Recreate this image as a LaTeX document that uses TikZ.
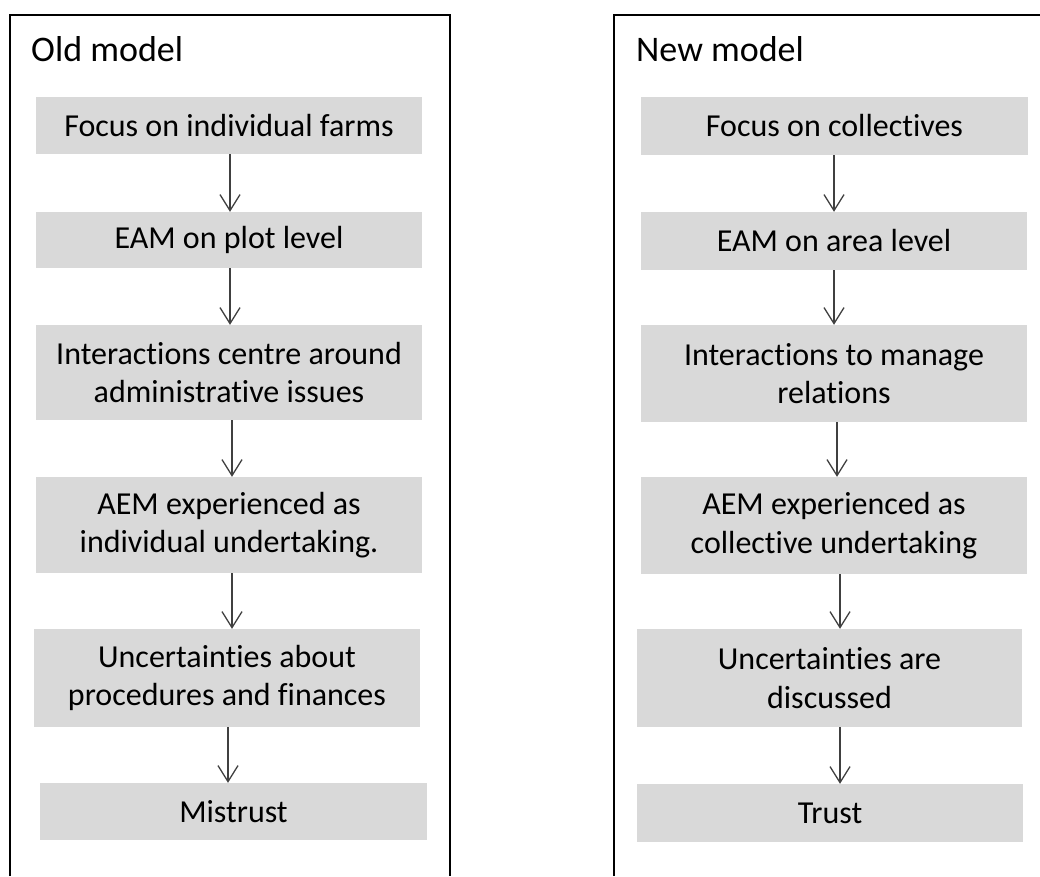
\documentclass[tikz,border=0pt]{standalone}
\usepackage{fontspec}
\setmainfont{Carlito}[Ligatures={NoCommon,NoRare,NoContextual}]
\usetikzlibrary{arrows.meta}
\definecolor{boxgray}{HTML}{D9D9D9}
\definecolor{arrowgray}{HTML}{404040}
\newcommand{\nolig}{\kern0pt\relax}
\begin{document}
\begin{tikzpicture}[x=1pt,y=-1pt,
  frame/.style={line width=2pt, draw=black},
  stepbox/.style={fill=boxgray, draw=none, inner sep=0pt, align=center,
    font=\fontsize{32}{38.4}\selectfont, text=black, minimum width=386pt},
  ttl/.style={anchor=base west, inner sep=0pt, font=\fontsize{36}{43}\selectfont},
  arr/.style={line width=1.3pt, draw=arrowgray,
    -{Straight Barb[length=16pt,width=20pt,line width=1.3pt]}}]
\useasboundingbox (0,0) rectangle (1040,876);
\fill[white] (0,0) rectangle (1040,876);
% frames
\draw[frame] (10,876) -- (10,15) -- (450,15) -- (450,876);
\draw[frame] (614,876) -- (614,15) -- (1040,15);
% titles
\node[ttl] (tL) at (31,61) {Old model};
\node[ttl] (tR) at (636,61) {New model};
% left column
\node[stepbox, minimum height=57pt] (L1) at (229,125.5) {Focus on individual farms};
\node[stepbox, minimum height=56pt] (L2) at (229,240) {EAM on plot level};
\node[stepbox, minimum height=95pt] (L3) at (229,372.5) {Interact\nolig ions centre around\\administrat\nolig ive issues};
\node[stepbox, minimum height=96pt] (L4) at (229,525) {AEM experienced as\\individual undertaking.};
\node[stepbox, minimum height=98pt] (L5) at (227,678) {Uncertaint\nolig ies about\\procedures and finances};
\node[stepbox, minimum height=57pt, minimum width=387pt] (L6) at (233.5,811.5) {Mistrust};
% right column
\node[stepbox, minimum height=58pt, minimum width=387pt] (R1) at (834.5,126) {Focus on collect\nolig ives};
\node[stepbox, minimum height=58pt] (R2) at (834,241) {EAM on area level};
\node[stepbox, minimum height=97pt] (R3) at (834,373.5) {Interact\nolig ions to manage\\relat\nolig ions};
\node[stepbox, minimum height=97pt] (R4) at (834,525.5) {AEM experienced as\\collect\nolig ive undertaking};
\node[stepbox, minimum height=98pt, minimum width=385pt] (R5) at (829.5,678) {Uncertaint\nolig ies are\\discussed};
\node[stepbox, minimum height=58pt] (R6) at (830,813) {Trust};
% arrow columns
\coordinate (la1) at (230,0);
\coordinate (la2) at (230,0);
\coordinate (la3) at (232,0);
\coordinate (la4) at (232,0);
\coordinate (la5) at (228,0);
\coordinate (ra1) at (834,0);
\coordinate (ra2) at (834,0);
\coordinate (ra3) at (837,0);
\coordinate (ra4) at (840,0);
\coordinate (ra5) at (840,0);
\draw[arr] (L1.south -| la1) -- (L2.north -| la1);
\draw[arr] (L2.south -| la2) -- (L3.north -| la2);
\draw[arr] (L3.south -| la3) -- (L4.north -| la3);
\draw[arr] (L4.south -| la4) -- (L5.north -| la4);
\draw[arr] (L5.south -| la5) -- (L6.north -| la5);
\draw[arr] (R1.south -| ra1) -- (R2.north -| ra1);
\draw[arr] (R2.south -| ra2) -- (R3.north -| ra2);
\draw[arr] (R3.south -| ra3) -- (R4.north -| ra3);
\draw[arr] (R4.south -| ra4) -- (R5.north -| ra4);
\draw[arr] (R5.south -| ra5) -- (R6.north -| ra5);
\end{tikzpicture}
\end{document}
